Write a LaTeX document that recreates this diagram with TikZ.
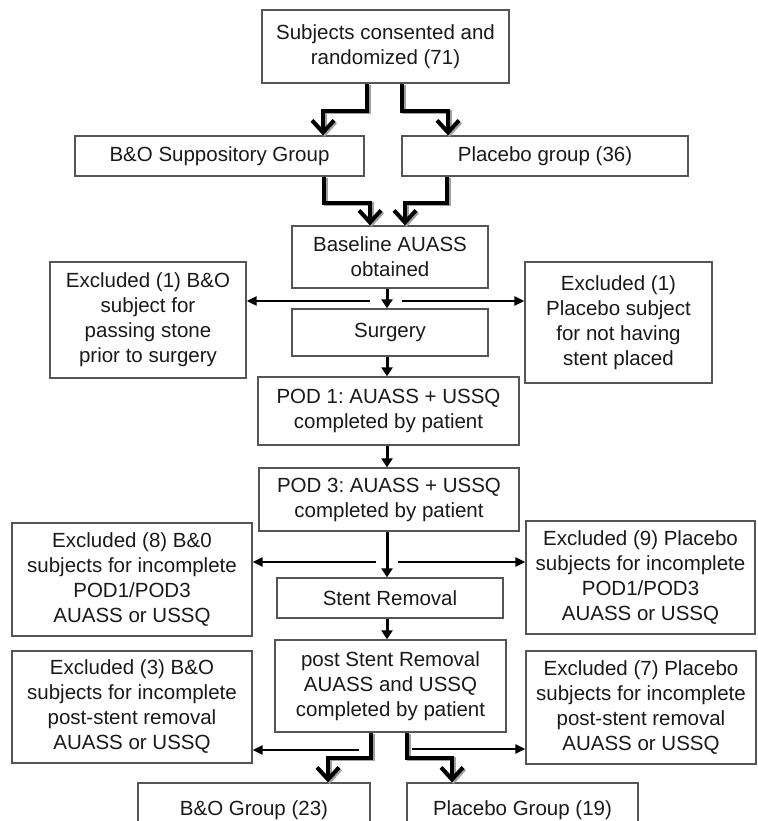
\documentclass[tikz,border=0pt]{standalone}
\usepackage{fontspec}
\setmainfont{Liberation Sans}
\usetikzlibrary{arrows.meta,calc}
\definecolor{txt}{HTML}{1A1A1A}
\definecolor{bord}{HTML}{555555}
\definecolor{shad}{HTML}{A0A0A0}
\tikzset{
  box/.style={draw=bord, line width=1.3pt, fill=white, inner sep=0pt, align=center,
    text=txt, font=\fontsize{20.5}{25}\selectfont\frenchspacing},
  thickarrow/.style={line width=4pt, black, miter limit=10,
    -{Straight Barb[length=12pt,width=22pt]},
    preaction={draw=shad, line width=4pt, transform canvas={shift={(1.6pt,-1.6pt)}}}},
  thinarrow/.style={line width=2.4pt, black, -{Triangle[length=10pt,width=9pt]}},
  midarrow/.style={line width=3pt, black, -{Triangle[length=9pt,width=11pt]}}
}
\begin{document}
\begin{tikzpicture}[x=1pt,y=-1pt]
\useasboundingbox (0,0) rectangle (757,821);
\clip (0,0) rectangle (757,821);
% boxes: center, width, height
\node[box, minimum width=247pt, minimum height=73pt] (b1) at (385.5,46.5) {Subjects consented and\\randomized (71)};
\node[box, minimum width=289pt, minimum height=40pt] (bo) at (219.5,156) {B\&O Suppository Group};
\node[box, minimum width=286pt, minimum height=40pt] (pl) at (545,156) {Placebo group (36)};
\node[box, minimum width=196pt, minimum height=62pt] (base) at (390,257) {Baseline AUASS\\obtained};
\node[box, minimum width=196pt, minimum height=47pt] (surg) at (390,332.5) {Surgery};
\node[box, minimum width=196pt, minimum height=116pt] (ex1) at (148,320) {Excluded (1) B\&O\\subject for\\passing stone\\prior to surgery};
\node[box, minimum width=187pt, minimum height=121pt] (ex2) at (618.5,322.5) {Excluded (1)\\Placebo subject\\for not having\\stent placed};
\node[box, minimum width=261pt, minimum height=68pt] (pod1) at (388.5,411) {POD 1: AUASS + USSQ\\completed by patient};
\node[box, minimum width=260pt, minimum height=63pt] (pod3) at (389,499.5) {POD 3: AUASS + USSQ\\completed by patient};
\node[box, minimum width=226pt, minimum height=40pt] (stent) at (390,598) {Stent Removal};
\node[box, minimum width=240pt, minimum height=113pt] (ex8) at (132,579.5) {Excluded (8) B\&0\\subjects for incomplete\\POD1/POD3\\AUASS or USSQ};
\node[box, minimum width=229pt, minimum height=113pt] (ex9) at (640.5,577.5) {Excluded (9) Placebo\\subjects for incomplete\\POD1/POD3\\AUASS or USSQ};
\node[box, minimum width=231pt, minimum height=92pt] (post) at (390.5,686) {post Stent Removal\\AUASS and USSQ\\completed by patient};
\node[box, minimum width=240pt, minimum height=112pt] (ex3) at (132,707) {Excluded (3) B\&O\\subjects for incomplete\\post-stent removal\\AUASS or USSQ};
\node[box, minimum width=230pt, minimum height=113pt] (ex7) at (641,707.5) {Excluded (7) Placebo\\subjects for incomplete\\post-stent removal\\AUASS or USSQ};
\node[box, minimum width=232pt, minimum height=54pt] (g1) at (254,810) {B\&O Group (23)};
\node[box, minimum width=231pt, minimum height=54pt] (g2) at (522.5,810) {Placebo Group (19)};
% thick elbow arrows
\draw[thickarrow] ([xshift=-18.5pt]b1.south) -- ++(0,27) -| ([xshift=103.5pt]bo.north);
\draw[thickarrow] ([xshift=16.5pt]b1.south) -- ++(0,27) -| ([xshift=-97pt]pl.north);
\draw[thickarrow] ([xshift=104.5pt]bo.south) -- ++(0,26) -| ([xshift=-20pt]base.north);
\draw[thickarrow] ([xshift=-98pt]pl.south) -- ++(0,26) -| ([xshift=15pt]base.north);
\draw[thickarrow] ([xshift=-19.5pt]post.south) -- ++(0,25) -| ([xshift=74pt]g1.north);
\draw[thickarrow] ([xshift=16.5pt]post.south) -- ++(0,25) -| ([xshift=-70.5pt]g2.north);
% vertical centre arrows
\coordinate (cx) at (387,0);
\draw[midarrow] (base.south -| cx) -- (surg.north -| cx);
\draw[midarrow] (surg.south -| cx) -- (pod1.north -| cx);
\draw[midarrow] (pod1.south -| cx) -- (pod3.north -| cx);
\draw[midarrow] (pod3.south -| cx) -- (stent.north -| cx);
\draw[midarrow] (stent.south -| cx) -- (post.north -| cx);
% side thin arrows
\coordinate (l1) at (370,301);
\coordinate (r1) at (402,301);
\coordinate (l2) at (376,562);
\coordinate (r2) at (398,562);
\coordinate (l3) at (359,750);
\coordinate (r3) at (412,749);
\draw[thinarrow] (l1) -- (l1 -| ex1.east);
\draw[thinarrow] (r1) -- (r1 -| ex2.west);
\draw[thinarrow] (l2) -- (l2 -| ex8.east);
\draw[thinarrow] (r2) -- (r2 -| ex9.west);
\draw[thinarrow] (l3) -- (l3 -| ex3.east);
\draw[thinarrow] (r3) -- (r3 -| ex7.west);
\end{tikzpicture}
\end{document}
